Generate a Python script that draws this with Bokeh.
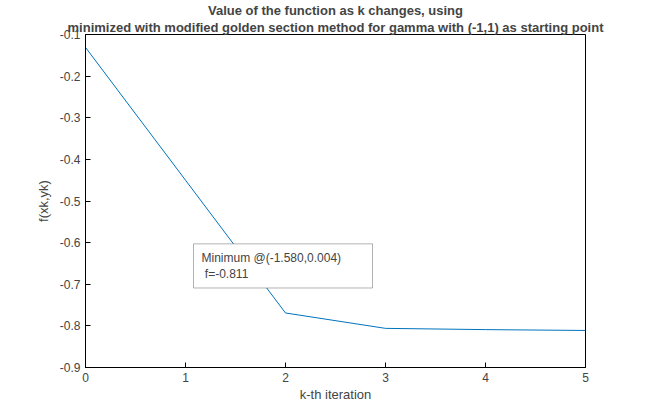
from bokeh.plotting import figure
from bokeh.models import Title, BoxAnnotation, Label, FixedTicker, Range1d, PrintfTickFormatter
from bokeh.embed import file_html
from bokeh.resources import INLINE

k = [0, 1, 2, 3, 4, 5]
fvals = [-0.131, -0.450, -0.769, -0.806, -0.809, -0.811]
x_ticks = [0, 1, 2, 3, 4, 5]
y_ticks = [-0.9, -0.8, -0.7, -0.6, -0.5, -0.4, -0.3, -0.2, -0.1]
font = "Liberation Sans"

p = figure(width=640, height=404, output_backend="svg", toolbar_location=None,
           x_range=Range1d(0, 5), y_range=Range1d(-0.9, -0.1),
           min_border_left=85, min_border_right=55, min_border_bottom=10, min_border_top=2)
for t in ["minimized with modified golden section method for gamma with (-1,1) as starting point",
          "Value of the function as k changes, using"]:
    p.add_layout(Title(text=t, align="center", text_font=font, text_font_size="13px",
                       text_font_style="bold", standoff=0, offset=0), "above")
p.title.standoff = 0

p.line(k, fvals, line_color="#0072BD", line_width=1)

box = BoxAnnotation(left=1.08, right=2.87, top=-0.603, bottom=-0.709,
                    fill_color="white", fill_alpha=1, line_color="black", line_width=1)
p.add_layout(box)
p.add_layout(Label(x=1.16, y=-0.636, text="Minimum @(-1.580,0.004)", text_font=font,
                   text_font_size="12px", text_baseline="middle"))
p.add_layout(Label(x=1.16, y=-0.676, text="\u00a0f=-0.811", text_font=font,
                   text_font_size="12px", text_baseline="middle"))

p.grid.visible = False
p.outline_line_color = "black"
for ax in (p.xaxis, p.yaxis):
    ax.major_tick_in = 5
    ax.major_tick_out = 0
    ax.minor_tick_line_color = None
    ax.major_label_text_font = font
    ax.major_label_text_font_size = "12px"
    ax.axis_label_text_font = font
    ax.axis_label_text_font_size = "13px"
    ax.axis_label_text_font_style = "normal"
p.xaxis.ticker = FixedTicker(ticks=x_ticks)
p.yaxis.ticker = FixedTicker(ticks=y_ticks)
p.yaxis.formatter = PrintfTickFormatter(format="%.1f")
p.xaxis.axis_label = "k-th iteration"
p.yaxis.axis_label = "f(xk,yk)"
p.xaxis.axis_label_standoff = 2
p.yaxis.axis_label_standoff = 6

open("out.html", "w").write(file_html(p, INLINE))
